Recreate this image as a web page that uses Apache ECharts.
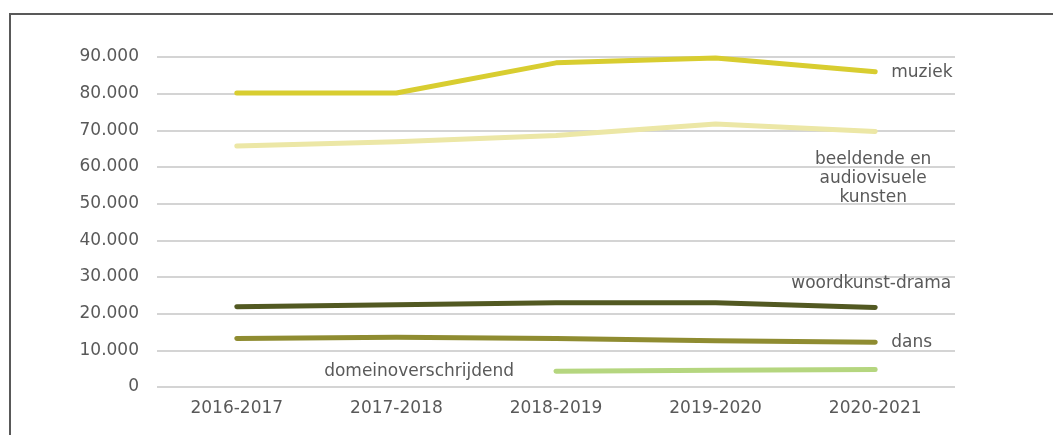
<!DOCTYPE html>
<html>
<head>
<meta charset="utf-8">
<script src="https://cdn.jsdelivr.net/npm/echarts@6/dist/echarts.min.js"></script>
<style>
  html, body { margin: 0; padding: 0; background: #fff; }
  #wrap { position: relative; width: 1053px; height: 435px; overflow: hidden; }
  #frame { position: absolute; left: 9px; top: 13px; width: 1100px; height: 500px; border: 2px solid #595959; box-sizing: border-box; }
  #chart { position: absolute; left: 0; top: 0; width: 1053px; height: 435px; }
</style>
</head>
<body>
<div id="wrap">
  <div id="frame"></div>
  <div id="chart"></div>
</div>
<script>
// schooljaren
const categories = ['2016-2017', '2017-2018', '2018-2019', '2019-2020', '2020-2021']

// aantallen per domein
const muziek = [80200, 80200, 88400, 89700, 86000]
const beeldende = [65700, 66900, 68600, 71700, 69700]
const woordkunst = [21900, 22400, 23000, 23000, 21700]
const dans = [13200, 13600, 13200, 12600, 12200]
const domein = [null, null, 4300, 4600, 4800]

const yTicks = { min: 0, max: 90000, interval: 10000 }

const textColor = '#595959'
const font = 'DejaVu Sans, Verdana, sans-serif'
const fontSize = 17

const chart = echarts.init(document.getElementById('chart'), null, { renderer: 'canvas' })

const baseLabel = {
  color: textColor,
  fontFamily: font,
  fontSize
}

const makeSeries = (name, data, color, endLabel) => ({
  name,
  type: 'line',
  data,
  showSymbol: false,
  symbol: 'none',
  smooth: false,
  lineStyle: { color, width: 5, cap: 'round', join: 'round' },
  itemStyle: { color },
  endLabel: endLabel ? Object.assign({ show: true }, baseLabel, endLabel) : { show: false },
  emphasis: { disabled: true },
  z: 3
})

const option = {
  animation: false,
  grid: { left: 157, right: 98, top: 57, bottom: 48 },
  xAxis: {
    type: 'category',
    data: categories,
    boundaryGap: true,
    axisLine: { show: false },
    axisTick: { show: false },
    axisLabel: { color: textColor, fontFamily: font, fontSize, margin: 13 }
  },
  yAxis: {
    type: 'value',
    min: yTicks.min,
    max: yTicks.max,
    interval: yTicks.interval,
    axisLine: { show: false },
    axisTick: { show: false },
    splitLine: { lineStyle: { color: '#d4d4d4', width: 2 } },
    axisLabel: {
      color: textColor,
      fontFamily: font,
      fontSize,
      margin: 18,
      formatter: v => v === 0 ? '0' : String(v).replace(/\B(?=(\d{3})+(?!\d))/g, '.')
    }
  },
  series: [
    makeSeries('muziek', muziek, '#d8cd30', {
      formatter: 'muziek', distance: 16, offset: [0, 1]
    }),
    makeSeries('beeldende en audiovisuele kunsten', beeldende, '#ece7a6', {
      formatter: 'beeldende en\naudiovisuele\nkunsten', align: 'center', lineHeight: 19,
      distance: 0, offset: [-2, 47]
    }),
    makeSeries('woordkunst-drama', woordkunst, '#525922', {
      formatter: 'woordkunst-drama', align: 'center', distance: 0, offset: [-4, -24]
    }),
    makeSeries('dans', dans, '#8f8c31', {
      formatter: 'dans', distance: 16, offset: [0, 0]
    }),
    Object.assign(makeSeries('domeinoverschrijdend', domein, '#b5d67f', null), {
      showSymbol: true,
      symbol: 'circle',
      symbolSize: 0,
      label: {
        show: true,
        position: 'left',
        distance: 42,
        color: textColor,
        fontFamily: font,
        fontSize,
        formatter: p => p.dataIndex === 2 ? 'domeinoverschrijdend' : ''
      }
    })
  ]
}

chart.setOption(option)
</script>
</body>
</html>
